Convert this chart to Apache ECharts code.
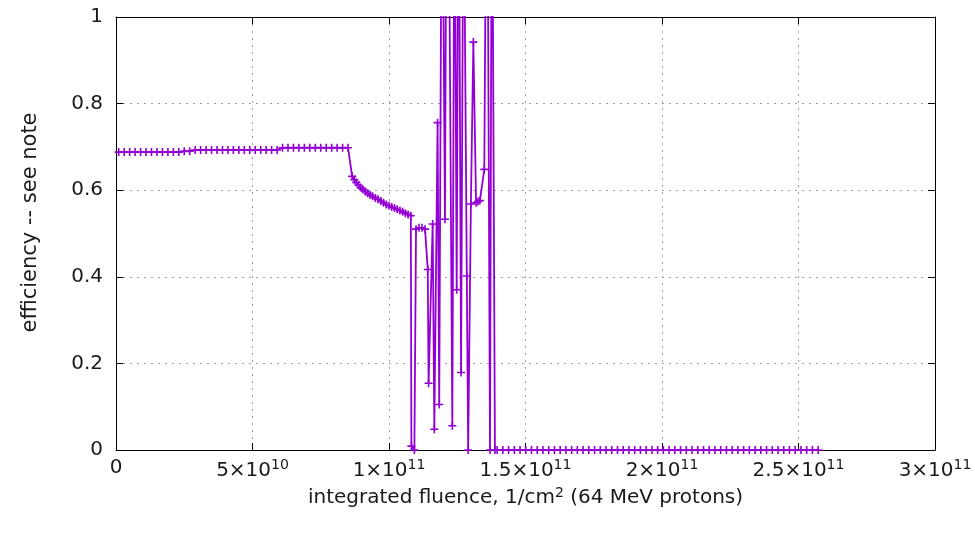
<!DOCTYPE html>
<html>
<head>
<meta charset="utf-8">
<script src="https://cdn.jsdelivr.net/npm/echarts@6/dist/echarts.min.js"></script>
<style>
html,body{margin:0;padding:0;background:#fff;}
#chart{width:975px;height:536px;}
</style>
</head>
<body>
<div id="chart"></div>
<script>
// x values in units of 1e9 (1/cm^2), y = efficiency
const flatX = [1,3,5,7,9,11,13,15,17,19,21,23,25,27,29,31,33,35,37,39,41,43,45,47,49,51,53,55,57,59,61,63,65,67,69,71,73,75,77,79,81,83,85];
const flatY = [0.688,0.688,0.688,0.688,0.688,0.688,0.688,0.688,0.688,0.688,0.688,0.688,0.690,0.690,
               0.693,0.693,0.693,0.693,0.693,0.693,0.693,0.693,0.693,0.693,0.693,0.693,0.693,0.693,0.693,0.693,
               0.698,0.698,0.698,0.698,0.698,0.698,0.698,0.698,0.698,0.698,0.698,0.698,0.698];
const decayX = [86.5,87.3,88.0,88.8,89.6,90.4,91.3,92.2,93.1,94.0,95.0,96.0,97.0,98.0,99.0,100.0,101.0,102.0,103.0,104.0,105.0,106.0,107.0,108.0];
const decayY = [0.632,0.624,0.618,0.612,0.606,0.602,0.597,0.593,0.589,0.586,0.582,0.579,0.575,0.571,0.567,0.564,0.561,0.559,0.556,0.553,0.550,0.547,0.544,0.541];
const chaosX = [108.2,109.3,109.9,111.0,112.1,113.2,114.2,114.5,116.0,116.6,117.8,118.4,119.4,120.5,121.2,121.9,123.2,124.0,124.8,125.5,126.4,127.3,128.5,129.0,130.0,130.9,131.9,132.6,133.3,134.9,135.9,137.0,137.7,138.8];
const chaosY = [0.009,0.0,0.510,0.513,0.513,0.510,0.417,0.154,0.522,0.048,0.756,0.105,1.5,0.533,1.6,1.3,0.056,1.4,0.370,1.5,0.179,1.4,0.402,0.0,0.568,0.942,0.571,0.574,0.576,0.648,1.6,0.0,1.5,0.0];
const zeroX = [139.6,141.7,143.8,145.9,148.0,150.1,152.2,154.3,156.4,158.5,160.6,162.7,164.8,166.9,169.0,171.1,173.2,175.3,177.4,179.5,181.6,183.7,185.8,187.9,190.0,192.1,194.2,196.3,198.4,200.5,202.6,204.7,206.8,208.9,211.0,213.1,215.2,217.3,219.4,221.5,223.6,225.7,227.8,229.9,232.0,234.1,236.2,238.3,240.4,242.5,244.6,246.7,248.8,250.9,253.0,255.1,257.2];
const zeroY = zeroX.map(() => 0);

const xTickValues = [0, 5e10, 1e11, 1.5e11, 2e11, 2.5e11, 3e11];
const xTickMantissa = ['0', '5', '1', '1.5', '2', '2.5', '3'];
const xTickExponent = ['', '10', '11', '11', '11', '11', '11'];
const yTickLabels = ['0', '0.2', '0.4', '0.6', '0.8', '1'];

const xs = [].concat(flatX, decayX, chaosX, zeroX);
const ys = [].concat(flatY, decayY, chaosY, zeroY);
const data = xs.map((x, i) => [x * 1e9, ys[i]]);

const FONT = 'DejaVu Sans';
const FS = 20;
const TXT = '#1a1a1a';
const chart = echarts.init(document.getElementById('chart'), null, {renderer: 'canvas'});
const plus = 'path://M2.8,0H4.2V2.8H7V4.2H4.2V7H2.8V4.2H0V2.8H2.8Z';

chart.setOption({
  animation: false,
  backgroundColor: '#fff',
  grid: {left: 116, right: 40, top: 17, bottom: 86, containLabel: false},
  xAxis: [{
    type: 'value', min: 0, max: 3e11, interval: 5e10,
    name: 'integrated fluence, 1/cm{s|2} (64 MeV protons)',
    nameLocation: 'middle', nameGap: 29,
    nameTextStyle: {fontFamily: FONT, fontSize: FS, color: TXT,
      rich: {s: {fontFamily: FONT, fontSize: 14, color: TXT, verticalAlign: 'top', padding: [0, 0, 9, 0]}}},
    axisLine: {show: true, onZero: false, lineStyle: {color: '#000', width: 1}},
    axisTick: {show: true, inside: true, length: 7, lineStyle: {color: '#000'}},
    axisLabel: {
      margin: 8, fontFamily: FONT, fontSize: FS, color: TXT,
      formatter: function (v) {
        const i = xTickValues.findIndex(t => Math.abs(t - v) < 1);
        if (i < 0) return '';
        if (!xTickExponent[i]) return xTickMantissa[i];
        return '{b|' + xTickMantissa[i] + '×10}{s|' + xTickExponent[i] + '}';
      },
      rich: {
        b: {fontFamily: FONT, fontSize: FS, color: TXT, verticalAlign: 'bottom'},
        s: {fontFamily: FONT, fontSize: 14, color: TXT, verticalAlign: 'top', padding: [0, 0, 9, 0]}
      }
    },
    splitLine: {show: true, lineStyle: {color: '#a0a0a0', type: [2, 5], width: 1}}
  }, {
    type: 'value', min: 0, max: 3e11, interval: 5e10, position: 'top',
    axisLine: {show: true, onZero: false, lineStyle: {color: '#000', width: 1}},
    axisTick: {show: true, inside: true, length: 7, lineStyle: {color: '#000'}},
    axisLabel: {show: false}, splitLine: {show: false}
  }],
  yAxis: [{
    type: 'value', min: 0, max: 1, interval: 0.2,
    name: 'efficiency -- see note',
    nameLocation: 'middle', nameGap: 75, nameRotate: 90,
    nameTextStyle: {fontFamily: FONT, fontSize: 21, color: TXT, padding: [0, 0, 0, 22]},
    axisLine: {show: true, onZero: false, lineStyle: {color: '#000', width: 1}},
    axisTick: {show: true, inside: true, length: 7, lineStyle: {color: '#000'}},
    axisLabel: {margin: 13, fontFamily: FONT, fontSize: FS, color: TXT,
      formatter: function (v) { return yTickLabels[Math.round(v / 0.2)]; }},
    splitLine: {show: true, lineStyle: {color: '#a0a0a0', type: [2, 5], width: 1}}
  }, {
    type: 'value', min: 0, max: 1, interval: 0.2, position: 'right',
    axisLine: {show: true, onZero: false, lineStyle: {color: '#000', width: 1}},
    axisTick: {show: true, inside: true, length: 7, lineStyle: {color: '#000'}},
    axisLabel: {show: false}, splitLine: {show: false}
  }],
  series: [{
    type: 'line',
    xAxisIndex: 0, yAxisIndex: 0,
    data: data,
    clip: true,
    symbol: plus,
    symbolSize: 8,
    showAllSymbol: true,
    itemStyle: {color: '#9400D3'},
    lineStyle: {color: '#9400D3', width: 1.8},
    emphasis: {disabled: true}
  }]
});
</script>
</body>
</html>
